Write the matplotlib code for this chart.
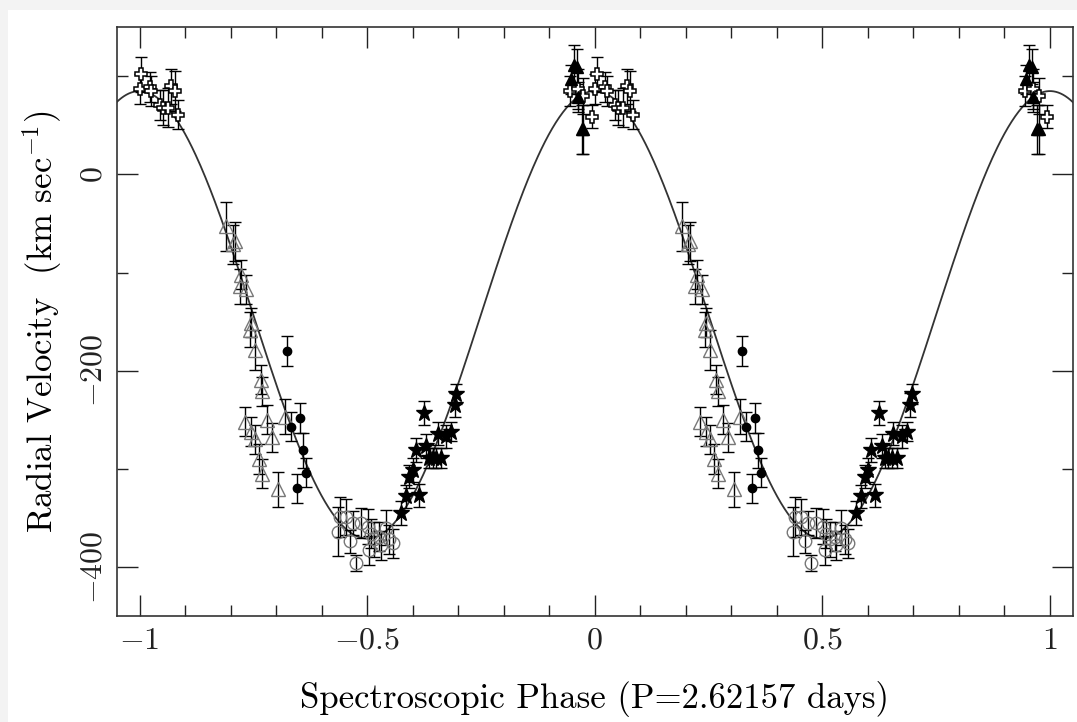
import numpy as np
import matplotlib
matplotlib.use("Agg")
import matplotlib.pyplot as plt
from matplotlib.ticker import MultipleLocator
from matplotlib.patches import Rectangle

plt.rcParams['font.family'] = 'serif'
plt.rcParams['font.serif'] = ['cmr10', 'DejaVu Serif']
plt.rcParams['mathtext.fontset'] = 'cm'
plt.rcParams['axes.formatter.use_mathtext'] = True

# ---- data (base phase in [0,1), plotted at phase-1 and phase) ----
cross_phase = [0.000, 0.004, 0.022, 0.026, 0.044, 0.051, 0.062, 0.070, 0.077, 0.084,
               0.945, 0.963, 0.975, 0.993]
cross_vel   = [87, 102, 89, 85, 71, 68, 68, 90, 85, 61,
               85, 87, 80, 59]
cross_err   = [15, 18, 15, 15, 15, 18, 20, 18, 20, 15,
               15, 20, 18, 12]

ftri_phase = [0.948, 0.955, 0.960, 0.963, 0.972, 0.975]
ftri_vel   = [97, 112, 110, 79, 46, 46]
ftri_err   = [15, 20, 18, 15, 25, 25]

otri_phase = [0.191, 0.209, 0.205, 0.224, 0.220, 0.235, 0.245, 0.242, 0.253,
              0.267, 0.270, 0.281, 0.319, 0.232, 0.244, 0.254, 0.262, 0.270, 0.292, 0.305]
otri_vel   = [-53, -68, -71, -102, -114, -117, -151, -158, -179,
              -209, -221, -250, -247, -252, -262, -270, -290, -305, -268, -321]
otri_err   = [25, 20, 20, 15, 18, 15, 15, 18, 20,
              15, 15, 15, 18, 15, 15, 15, 15, 15, 15, 18]

fcir_phase = [0.323, 0.333, 0.352, 0.359, 0.365, 0.345]
fcir_vel   = [-180, -257, -248, -281, -304, -320]
fcir_err   = [15, 15, 15, 18, 15, 15]

ocir_phase = [0.440, 0.436, 0.454, 0.462, 0.469, 0.487, 0.476, 0.501, 0.509,
              0.505, 0.516, 0.527, 0.531, 0.542, 0.549, 0.556]
ocir_vel   = [-349, -364, -349, -374, -355, -355, -396, -359, -366,
              -383, -372, -369, -378, -360, -372, -376]
ocir_err   = [20, 25, 18, 12, 12, 15, 8, 18, 15,
              15, 18, 15, 15, 18, 15, 15]

star_phase = [0.575, 0.586, 0.593, 0.600, 0.608, 0.615, 0.624, 0.630, 0.637,
              0.644, 0.655, 0.652, 0.663, 0.674, 0.685, 0.692, 0.696]
star_vel   = [-345, -328, -308, -301, -281, -327, -243, -277, -289,
              -289, -264, -289, -289, -267, -262, -235, -224]
star_err   = [12, 12, 12, 12, 12, 12, 12, 12, 10,
              10, 12, 10, 10, 12, 10, 12, 10]

# fitted orbit
gamma = -143.0
K_amp = 228.0

fig = plt.figure(figsize=(10.77, 7.22), dpi=100)
fig.patch.set_facecolor('#f3f3f3')
fig.patches.append(Rectangle((8 / 1077, 0), 1, 1 - 10 / 722, transform=fig.transFigure,
                             facecolor='white', edgecolor='none', zorder=-10))
ax = fig.add_axes([0.1084, 0.1468, 0.996 - 0.1084, 0.9622 - 0.1468])

ph = np.linspace(-1.05, 1.05, 800)
ax.plot(ph, gamma + K_amp * np.cos(2 * np.pi * ph), color='#333333', lw=1.3, zorder=1)


def draw(phase, vel, err, **kw):
    p = np.asarray(phase)
    v = np.asarray(vel)
    e = np.asarray(err)
    for shift in (-1, 0):
        ax.errorbar(p + shift, v, yerr=e, fmt='none', ecolor='black',
                    elinewidth=1.0, capsize=4, capthick=1.0, zorder=2)
        ax.plot(p + shift, v, linestyle='none', zorder=3, **kw)


draw(cross_phase, cross_vel, cross_err, marker='P', ms=9, mfc='white', mec='black', mew=1.1)
draw(ftri_phase, ftri_vel, ftri_err, marker='^', ms=9, mfc='black', mec='black')
draw(otri_phase, otri_vel, otri_err, marker='^', ms=10, mfc='none', mec='#777777', mew=1.0)
draw(fcir_phase, fcir_vel, fcir_err, marker='o', ms=6, mfc='black', mec='black')
draw(ocir_phase, ocir_vel, ocir_err, marker='o', ms=9, mfc='none', mec='#777777', mew=1.0)
draw(star_phase, star_vel, star_err, marker='*', ms=12, mfc='black', mec='black')

ax.set_xlim(-1.05, 1.05)
ax.set_ylim(-450, 150)
ax.xaxis.set_major_locator(MultipleLocator(0.5))
ax.xaxis.set_minor_locator(MultipleLocator(0.1))
ax.yaxis.set_major_locator(MultipleLocator(200))
ax.yaxis.set_minor_locator(MultipleLocator(100))
ax.tick_params(which='both', direction='in', top=True, right=True, colors='#222222',
               labelsize=23, width=1.0)
ax.tick_params(which='major', length=15)
ax.tick_params(which='minor', length=8)
ax.tick_params(axis='x', which='major', pad=8)
ax.tick_params(axis='y', which='major', pad=7)
ax.set_xticks([-1, -0.5, 0, 0.5, 1])
ax.set_xticklabels(['$-1$', '$-0.5$', '$0$', '$0.5$', '$1$'])
ax.set_yticks([-400, -200, 0])
ax.set_yticklabels(['$-400$', '$-200$', '$0$'], rotation=90, va='center')
for s in ax.spines.values():
    s.set_linewidth(1.2)
    s.set_color('#333333')

ax.set_xlabel('Spectroscopic Phase (P=2.62157 days)', fontsize=25, labelpad=19)
ax.set_ylabel('Radial Velocity  (km sec$^{-1}$)', fontsize=25, labelpad=11)

fig.savefig('out.png', dpi=100, facecolor=fig.get_facecolor())
